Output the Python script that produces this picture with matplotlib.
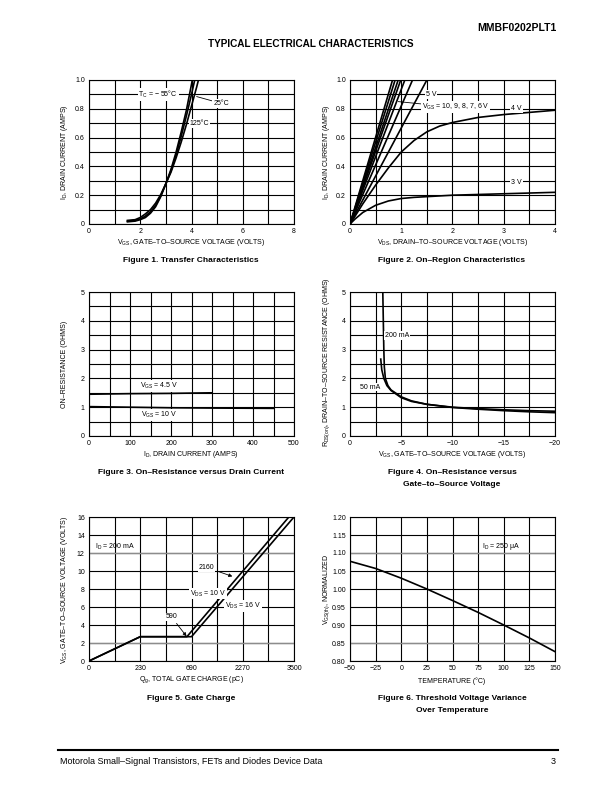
import numpy as np
import matplotlib
matplotlib.use('Agg')
import matplotlib.pyplot as plt
from matplotlib.ticker import FixedLocator

plt.rcParams['font.family'] = ['Liberation Sans', 'DejaVu Sans']
plt.rcParams['mathtext.fontset'] = 'custom'
plt.rcParams['mathtext.rm'] = 'Liberation Sans'
plt.rcParams['mathtext.it'] = 'Liberation Sans:italic'
plt.rcParams['mathtext.bf'] = 'Liberation Sans:bold'

# ---------------- data ----------------
# Figure 1: transfer characteristics
f1_vgs = [1.5, 1.8, 2.0, 2.2, 2.4, 2.6, 2.8, 3.0, 3.2, 3.4, 3.6, 3.8, 4.0, 4.2, 4.4]
f1_id_m55 = [0.015, 0.02, 0.03, 0.045, 0.075, 0.12, 0.19, 0.28, 0.38, 0.50, 0.64, 0.79, 0.97, 1.16, 1.36]
f1_id_25 = [0.02, 0.025, 0.035, 0.055, 0.085, 0.13, 0.195, 0.28, 0.37, 0.48, 0.61, 0.75, 0.90, 1.06, 1.22]
f1_id_125 = [0.025, 0.03, 0.045, 0.07, 0.10, 0.145, 0.205, 0.28, 0.36, 0.46, 0.57, 0.69, 0.82, 0.95, 1.09]
f1_xticks = [0, 2, 4, 6, 8]
f1_xlabels = ['0', '2', '4', '6', '8']
f1_yticks = [0, 0.2, 0.4, 0.6, 0.8, 1.0]
f1_ylabels = ['0', '0.2', '0.4', '0.6', '0.8', '1.0']

# Figure 2: on-region characteristics
f2_steep_vds_at_1A = [0.83, 0.88, 0.94, 0.99, 1.07, 1.22, 1.50]   # VGS = 10, 9, 8, 7, 6, 5 V ...
f2_steep_id = [0, 1.0]
f2_vds = [0, 0.1, 0.25, 0.5, 0.75, 1.0, 1.25, 1.5, 1.75, 2.0, 2.5, 3.0, 3.5, 4.0]
f2_id_4v = [0, 0.055, 0.14, 0.27, 0.39, 0.50, 0.58, 0.64, 0.68, 0.705, 0.74, 0.76, 0.775, 0.79]
f2_id_3v = [0, 0.035, 0.08, 0.13, 0.16, 0.177, 0.185, 0.19, 0.195, 0.20, 0.205, 0.21, 0.215, 0.22]
f2_xticks = [0, 1, 2, 3, 4]
f2_xlabels = ['0', '1', '2', '3', '4']

# Figure 3: on-resistance vs drain current
f3_id_45 = [0, 100, 200, 300]
f3_r_45 = [1.45, 1.47, 1.48, 1.50]
f3_id_10 = [0, 100, 200, 300, 450]
f3_r_10 = [1.02, 1.00, 0.98, 0.97, 0.96]
f3_xticks = [0, 100, 200, 300, 400, 500]
f3_xlabels = ['0', '100', '200', '300', '400', '500']
f3_yticks = [0, 1, 2, 3, 4, 5]
f3_ylabels = ['0', '1', '2', '3', '4', '5']

# Figure 4: on-resistance vs gate-to-source voltage
f4_vgs_200 = [-3.2, -3.25, -3.3, -3.35, -3.45, -3.7, -4.0, -5.0, -6.0, -7.5, -10.0, -12.5, -15.0, -17.5, -20.0]
f4_r_200 = [5.0, 4.0, 3.0, 2.4, 2.0, 1.75, 1.6, 1.36, 1.22, 1.10, 0.99, 0.93, 0.88, 0.84, 0.81]
f4_vgs_50 = [-3.0, -3.1, -3.3, -3.6, -4.0, -5.0, -6.0, -7.5, -10.0, -12.5, -15.0, -17.5, -20.0]
f4_r_50 = [2.67, 2.3, 2.0, 1.75, 1.58, 1.33, 1.20, 1.10, 1.00, 0.95, 0.91, 0.88, 0.86]
f4_xticks = [0, -5, -10, -15, -20]
f4_xlabels = ['0', '\u22125', '\u221210', '\u221215', '\u221220']

# Figure 5: gate charge
f5_qticks = [0, 230, 690, 2270, 3500]
f5_qlabels = ['0', '230', '690', '2270', '3500']
f5_q_16v = [0, 230, 690, 2270, 3500]
f5_v_16v = [0, 2.7, 2.7, 9.35, 16.0]
f5_q_10v = [0, 230, 649, 690, 2270, 3377]
f5_v_10v = [0, 2.7, 2.7, 3.3, 9.98, 16.0]
f5_yticks = [0, 2, 4, 6, 8, 10, 12, 14, 16]
f5_ylabels = ['0', '2', '4', '6', '8', '10', '12', '14', '16']
f5_ref_levels = [2, 12]

# Figure 6: threshold voltage variance
f6_temp = [-50, -25, 0, 25, 50, 75, 100, 125, 150]
f6_vth = [1.077, 1.057, 1.03, 1.0, 0.968, 0.935, 0.90, 0.864, 0.826]
f6_xticks = [-50, -25, 0, 25, 50, 75, 100, 125, 150]
f6_xlabels = ['\u221250', '\u221225', '0', '25', '50', '75', '100', '125', '150']
f6_yticks = [0.80, 0.85, 0.90, 0.95, 1.00, 1.05, 1.10, 1.15, 1.20]
f6_ylabels = ['0.80', '0.85', '0.90', '0.95', '1.00', '1.05', '1.10', '1.15', '1.20']
f6_ref_levels = [0.85, 1.10]

# ---------------- layout ----------------
W, H = 612, 792
fig = plt.figure(figsize=(W / 100, H / 100), dpi=100)

def add_ax(x0, y0, x1, y1):
    return fig.add_axes([x0 / W, 1 - y1 / H, (x1 - x0) / W, (y1 - y0) / H])

def ft(x, y, s, **kw):
    kw.setdefault('fontsize', 5)
    kw.setdefault('ha', 'center')
    kw.setdefault('va', 'center')
    fig.text(x / W, 1 - y / H, s, **kw)

GRID_LW = 0.8
CURVE_LW = 1.2
TXT = 5
TITLE = 6.0
BOX = dict(facecolor='white', edgecolor='none', pad=0.6)

def style(ax, xlim, ylim, xt, xl, xminor, yt, yl, yminor):
    ax.set_xlim(*xlim)
    ax.set_ylim(*ylim)
    ax.xaxis.set_major_locator(FixedLocator(xt))
    ax.set_xticklabels(xl)
    ax.yaxis.set_major_locator(FixedLocator(yt))
    ax.set_yticklabels(yl)
    ax.xaxis.set_minor_locator(FixedLocator(xminor))
    ax.yaxis.set_minor_locator(FixedLocator(yminor))
    ax.grid(which='both', color='black', lw=GRID_LW)
    ax.set_axisbelow(True)
    ax.tick_params(which='both', length=0, labelsize=TXT, pad=3)
    for s in ax.spines.values():
        s.set_linewidth(GRID_LW)

# header
ft(556, 28, 'MMBF0202PLT1', fontsize=7.5, weight='heavy', ha='right')
ft(311, 44, 'TYPICAL ELECTRICAL CHARACTERISTICS', fontsize=7.2, weight='bold')

# ---- Figure 1 ----
ax1 = add_ax(89, 80, 294, 224)
style(ax1, (0, 8), (0, 1.0), f1_xticks, f1_xlabels, np.arange(0, 8.01, 1),
      f1_yticks, f1_ylabels, np.arange(0, 1.001, 0.1))
for yv in (f1_id_m55, f1_id_25, f1_id_125):
    ax1.plot(f1_vgs, yv, color='black', lw=CURVE_LW)
ax1.text(2.7, 0.9, 'T$_{\\mathrm{C}}$ = \u2212 55\u00b0C', fontsize=TXT, ha='center', va='center', bbox=BOX)
ax1.annotate('25\u00b0C', xy=(4.2, 0.885), xytext=(5.15, 0.838), fontsize=TXT,
             ha='center', va='center', bbox=BOX,
             arrowprops=dict(arrowstyle='-', lw=0.6, color='black', shrinkA=0, shrinkB=0))
ax1.text(4.3, 0.7, '125\u00b0C', fontsize=TXT, ha='center', va='center', bbox=BOX)
ft(64, 152, 'I$_{\\mathrm{D}}$, DRAIN CURRENT (AMPS)', rotation=90)
ft(191, 242, 'V$_{\\mathrm{GS}}$, GATE\u2013TO\u2013SOURCE VOLTAGE (VOLTS)')
ft(191, 260, 'Figure 1. Transfer Characteristics', fontsize=TITLE, weight='bold')

# ---- Figure 2 ----
ax2 = add_ax(350, 80, 555, 224)
style(ax2, (0, 4), (0, 1.0), f2_xticks, f2_xlabels, np.arange(0, 4.01, 0.5),
      f1_yticks, f1_ylabels, np.arange(0, 1.001, 0.1))
for e in f2_steep_vds_at_1A:
    ax2.plot([0, e], f2_steep_id, color='black', lw=CURVE_LW)
ax2.plot(f2_vds, f2_id_4v, color='black', lw=CURVE_LW)
ax2.plot(f2_vds, f2_id_3v, color='black', lw=CURVE_LW)
ax2.text(1.58, 0.9, '5 V', fontsize=TXT, ha='center', va='center', bbox=BOX)
ax2.annotate('V$_{\\mathrm{GS}}$ = 10, 9, 8, 7, 6 V', xy=(0.94, 0.85), xytext=(1.4, 0.81),
             fontsize=TXT, ha='left', va='center', bbox=BOX,
             arrowprops=dict(arrowstyle='-', lw=0.6, color='black', shrinkA=0, shrinkB=0))
ax2.text(3.25, 0.8, '4 V', fontsize=TXT, ha='center', va='center', bbox=BOX)
ax2.text(3.25, 0.29, '3 V', fontsize=TXT, ha='center', va='center', bbox=BOX)
ft(326, 152, 'I$_{\\mathrm{D}}$, DRAIN CURRENT (AMPS)', rotation=90)
ft(452, 242, 'V$_{\\mathrm{DS}}$, DRAIN\u2013TO\u2013SOURCE VOLTAGE (VOLTS)')
ft(452, 260, 'Figure 2. On\u2013Region Characteristics', fontsize=TITLE, weight='bold')

# ---- Figure 3 ----
ax3 = add_ax(89, 292, 294, 436)
style(ax3, (0, 500), (0, 5), f3_xticks, f3_xlabels, np.arange(0, 501, 50),
      f3_yticks, f3_ylabels, np.arange(0, 5.01, 0.5))
ax3.plot(f3_id_45, f3_r_45, color='black', lw=CURVE_LW)
ax3.plot(f3_id_10, f3_r_10, color='black', lw=CURVE_LW)
ax3.text(171, 1.75, 'V$_{\\mathrm{GS}}$ = 4.5 V', fontsize=TXT, ha='center', va='center', bbox=BOX)
ax3.text(171, 0.72, 'V$_{\\mathrm{GS}}$ = 10 V', fontsize=TXT, ha='center', va='center', bbox=BOX)
ft(64, 364, 'ON\u2013RESISTANCE (OHMS)', rotation=90)
ft(191, 455, 'I$_{\\mathrm{D}}$, DRAIN CURRENT (AMPS)')
ft(191, 473, 'Figure 3. On\u2013Resistance versus Drain Current', fontsize=TITLE, weight='bold')

# ---- Figure 4 ----
ax4 = add_ax(350, 292, 555, 436)
style(ax4, (0, -20), (0, 5), f4_xticks, f4_xlabels, np.arange(0, -20.01, -2.5),
      f3_yticks, f3_ylabels, np.arange(0, 5.01, 0.5))
ax4.plot(f4_vgs_200, f4_r_200, color='black', lw=CURVE_LW)
ax4.plot(f4_vgs_50, f4_r_50, color='black', lw=CURVE_LW)
ax4.text(-4.6, 3.5, '200 mA', fontsize=TXT, ha='center', va='center', bbox=BOX)
ax4.text(-1.95, 1.7, '50 mA', fontsize=TXT, ha='center', va='center', bbox=BOX)
ft(327, 362, 'R$_{\\mathrm{DS(on)}}$, DRAIN\u2013TO\u2013SOURCE RESISTANCE (OHMS)', rotation=90)
ft(452, 455, 'V$_{\\mathrm{GS}}$, GATE\u2013TO\u2013SOURCE VOLTAGE (VOLTS)')
ft(452, 473, 'Figure 4. On\u2013Resistance versus', fontsize=TITLE, weight='bold')
ft(452, 485, 'Gate\u2013to\u2013Source Voltage', fontsize=TITLE, weight='bold')

# ---- Figure 5 ----
ax5 = add_ax(89, 517, 294, 661)
pos = [0, 1, 2, 3, 4]
ax5.set_xscale('function', functions=(lambda q: np.interp(q, f5_qticks, pos),
                                      lambda p: np.interp(p, pos, f5_qticks)))
q_minor = list(np.interp(np.arange(0, 4.01, 0.5), pos, f5_qticks))
style(ax5, (0, 3500), (0, 16), f5_qticks, f5_qlabels, q_minor,
      f5_yticks, f5_ylabels, f5_yticks)
for lv in f5_ref_levels:
    ax5.axhline(lv, color='#8c8c8c', lw=1.0, zorder=1.5)
ax5.plot(f5_q_10v, f5_v_10v, color='black', lw=CURVE_LW, zorder=3)
ax5.plot(f5_q_16v, f5_v_16v, color='black', lw=CURVE_LW, zorder=3)
ax5.text(117, 12.7, 'I$_{\\mathrm{D}}$ = 200 mA', fontsize=TXT, ha='center', va='center')
ax5.annotate('2160', xy=(1950, 9.4), xytext=(1150, 10.4), fontsize=TXT, ha='center', va='center',
             bbox=BOX, arrowprops=dict(arrowstyle='-|>', lw=0.6, color='black', mutation_scale=5,
                                       shrinkA=2, shrinkB=0))
ax5.text(1200, 7.5, 'V$_{\\mathrm{DS}}$ = 10 V', fontsize=TXT, ha='center', va='center', bbox=BOX)
ax5.text(2270, 6.1, 'V$_{\\mathrm{DS}}$ = 16 V', fontsize=TXT, ha='center', va='center', bbox=BOX)
ax5.annotate('590', xy=(645, 2.75), xytext=(510, 4.9), fontsize=TXT, ha='center', va='center',
             bbox=BOX, arrowprops=dict(arrowstyle='-|>', lw=0.6, color='black', mutation_scale=5,
                                       shrinkA=2, shrinkB=0))
ft(64, 590, 'V$_{\\mathrm{GS}}$, GATE\u2013TO\u2013SOURCE VOLTAGE (VOLTS)', rotation=90)
ft(191, 680, 'Q$_{\\mathrm{g}}$, TOTAL GATE CHARGE (pC)')
ft(191, 698, 'Figure 5. Gate Charge', fontsize=TITLE, weight='bold')

# ---- Figure 6 ----
ax6 = add_ax(350, 517, 555, 661)
style(ax6, (-50, 150), (0.80, 1.20), f6_xticks, f6_xlabels, f6_xticks,
      f6_yticks, f6_ylabels, f6_yticks)
for lv in f6_ref_levels:
    ax6.axhline(lv, color='#8c8c8c', lw=1.0, zorder=1.5)
ax6.plot(f6_temp, f6_vth, color='black', lw=CURVE_LW, zorder=3)
ax6.text(97, 1.117, 'I$_{\\mathrm{D}}$ = 250 \u03bcA', fontsize=TXT, ha='center', va='center')
ft(327, 590, 'V$_{\\mathrm{GS(th)}}$, NORMALIZED', rotation=90)
ft(452, 681, 'TEMPERATURE (\u00b0C)')
ft(452, 698, 'Figure 6. Threshold Voltage Variance', fontsize=TITLE, weight='bold')
ft(452, 710, 'Over Temperature', fontsize=TITLE, weight='bold')

# footer
fig.add_artist(plt.Line2D([58 / W, 558 / W], [1 - 750 / H, 1 - 750 / H], color='black', lw=1.5))
ft(60, 762, 'Motorola Small\u2013Signal Transistors, FETs and Diodes Device Data', fontsize=6.5, ha='left')
ft(556, 762, '3', fontsize=6.5, ha='right')

fig.savefig('out.png', dpi=100)
